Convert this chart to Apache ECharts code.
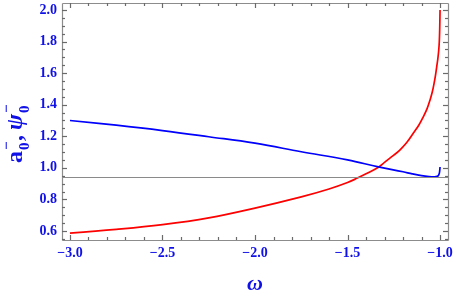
<!DOCTYPE html>
<html><head><meta charset="utf-8">
<script src="https://cdn.jsdelivr.net/npm/echarts@6/dist/echarts.min.js"></script>
<style>html,body{margin:0;padding:0;background:#fff}#c{width:457px;height:302px}</style>
</head><body><div id="c"></div>
<script>
// ---- data ----
const omegaBlue = [-3.0,-2.75,-2.5,-2.25,-2.0,-1.75,-1.5,-1.333,-1.2,-1.15,-1.1,-1.06,-1.03,-1.015,-1.008,-1.004,-1.002,-1.0];
const blueVals  = [1.300,1.270,1.236,1.197,1.156,1.102,1.050,1.006,0.975,0.962,0.951,0.945,0.943,0.946,0.953,0.965,0.980,1.005];
const omegaRed  = [-3.0,-2.75,-2.5,-2.25,-2.0,-1.75,-1.6,-1.5,-1.447,-1.4,-1.333,-1.3,-1.25,-1.216,-1.18,-1.144,-1.115,-1.09,-1.07,-1.054,-1.042,-1.032,-1.024,-1.018,-1.012,-1.007,-1.004,-1.002,-1.001,-1.0];
const redVals   = [0.587,0.610,0.640,0.683,0.745,0.816,0.866,0.907,0.935,0.962,1.004,1.035,1.080,1.114,1.160,1.220,1.270,1.325,1.375,1.430,1.480,1.536,1.590,1.640,1.690,1.746,1.800,1.870,1.930,2.000];
const hLineValue = 0.935;
const xMajorTicks = [-3.0,-2.5,-2.0,-1.5,-1.0];
const xMinorTicks = [-2.9,-2.8,-2.7,-2.6,-2.4,-2.3,-2.2,-2.1,-1.9,-1.8,-1.7,-1.6,-1.4,-1.3,-1.2,-1.1];
const yMajorTicks = [0.6,0.8,1.0,1.2,1.4,1.6,1.8,2.0];
const yMinorTicks = [0.55,0.65,0.7,0.75,0.85,0.9,0.95,1.05,1.1,1.15,1.25,1.3,1.35,1.45,1.5,1.55,1.65,1.7,1.75,1.85,1.9,1.95];
const xRange = [-3.043, -0.957];
const yRange = [0.543, 2.044];

// ---- chart ----
const BLUE = '#1010e8';
const TICK = '#6a6a6a';
const fmt = v => (Math.round(v*10)/10).toFixed(1).replace('-', '\u2212');
const labelStyle = {color:BLUE, fontFamily:'Liberation Serif', fontWeight:'bold', fontSize:14};
const chart = echarts.init(document.getElementById('c'), null, {renderer:'canvas'});
const zip = (a,b) => a.map((x,i)=>[x,b[i]]);
const R = v => Math.round(v);

function tickSeries(vals, isX, len) {
  return {
    type:'custom', clip:false,
    data: vals.map(v => isX ? [v, yRange[0]] : [xRange[0], v]),
    renderItem: (params, api) => {
      const children = [];
      const st = {stroke:TICK, lineWidth:1.2};
      if (isX) {
        const x = api.value(0);
        const b = api.coord([x, yRange[0]]), t = api.coord([x, yRange[1]]);
        const px = R(b[0]) + 0.5;
        children.push({type:'line', shape:{x1:px, y1:R(b[1]), x2:px, y2:R(b[1])-len}, style:st});
        children.push({type:'line', shape:{x1:px, y1:R(t[1]), x2:px, y2:R(t[1])+len}, style:st});
      } else {
        const y = api.value(1);
        const l = api.coord([xRange[0], y]), r = api.coord([xRange[1], y]);
        const py = R(l[1]) + 0.5;
        children.push({type:'line', shape:{x1:R(l[0]), y1:py, x2:R(l[0])+len, y2:py}, style:st});
        children.push({type:'line', shape:{x1:R(r[0]), y1:py, x2:R(r[0])-len, y2:py}, style:st});
      }
      return {type:'group', children};
    }
  };
}
const frameSeries = {
  type:'custom', clip:false,
  data:[[xRange[0], yRange[0]]],
  renderItem: (params, api) => {
    const bl = api.coord([xRange[0], yRange[0]]), tr = api.coord([xRange[1], yRange[1]]);
    const x0 = R(bl[0]) + 0.5, x1 = R(tr[0]) + 0.5, y0 = R(tr[1]) + 0.5, y1 = R(bl[1]) + 0.5;
    const st = {stroke:'#8c8c8c', lineWidth:1.2};
    return {type:'group', children:[
      {type:'line', shape:{x1:x0, y1:y0, x2:x1, y2:y0}, style:st},
      {type:'line', shape:{x1:x1, y1:y0, x2:x1, y2:y1}, style:st},
      {type:'line', shape:{x1:x1, y1:y1, x2:x0, y2:y1}, style:st},
      {type:'line', shape:{x1:x0, y1:y1, x2:x0, y2:y0}, style:st}
    ]};
  }
};

const lblFont = 'bold 24px "Liberation Serif"';
const subFont = 'bold 15px "Liberation Serif"';
chart.setOption({
  animation:false,
  backgroundColor:'#fff',
  grid:{left:62, right:9, top:3, bottom:62, show:false, containLabel:false, outerBoundsMode:'none'},
  xAxis:{ type:'value', min:xRange[0], max:xRange[1], splitLine:{show:false},
    axisLine:{show:false}, axisTick:{show:false},
    axisLabel:{show:true, customValues:xMajorTicks, formatter:fmt, margin:6, ...labelStyle},
    name:'\u03c9', nameLocation:'middle', nameGap:33,
    nameTextStyle:{color:BLUE, fontFamily:'Liberation Serif', fontStyle:'italic', fontWeight:'bold', fontSize:22} },
  yAxis:{ type:'value', min:yRange[0], max:yRange[1], splitLine:{show:false},
    axisLine:{show:false}, axisTick:{show:false},
    axisLabel:{show:true, customValues:yMajorTicks, formatter:fmt, margin:5, ...labelStyle} },
  series:[
    frameSeries,
    tickSeries(xMajorTicks, true, 5), tickSeries(xMinorTicks, true, 3),
    tickSeries(yMajorTicks, false, 5), tickSeries(yMinorTicks, false, 3),
    { type:'line', data:zip(omegaRed, redVals), showSymbol:false, smooth:0.4,
      lineStyle:{color:'#ff0000', width:1.7}, z:3,
      markLine:{silent:true, symbol:'none', label:{show:false},
        lineStyle:{color:'#8a8a8a', width:1, type:'solid'}, data:[{yAxis:hLineValue}]} },
    { type:'line', data:zip(omegaBlue, blueVals), showSymbol:false, smooth:0.4,
      lineStyle:{color:'#0000ff', width:1.7}, z:4 }
  ],
  graphic:[{
    type:'group', x:28, y:163, rotation:Math.PI/2,
    children:[
      {type:'text', x:0, y:0, style:{text:'a', font:lblFont, fill:BLUE, verticalAlign:'bottom'}},
      {type:'text', x:13, y:5, style:{text:'0', font:subFont, fill:BLUE, verticalAlign:'bottom'}},
      {type:'text', x:13, y:-13, style:{text:'\u2212', font:subFont, fill:BLUE, verticalAlign:'bottom'}},
      {type:'text', x:22, y:0, style:{text:',', font:lblFont, fill:BLUE, verticalAlign:'bottom'}},
      {type:'text', x:33, y:0, style:{text:'\u03c8', font:'italic bold 24px "Liberation Serif"', fill:BLUE, verticalAlign:'bottom'}},
      {type:'text', x:50, y:5, style:{text:'0', font:subFont, fill:BLUE, verticalAlign:'bottom'}},
      {type:'text', x:50, y:-13, style:{text:'\u2212', font:subFont, fill:BLUE, verticalAlign:'bottom'}}
    ]
  }]
});
</script></body></html>
